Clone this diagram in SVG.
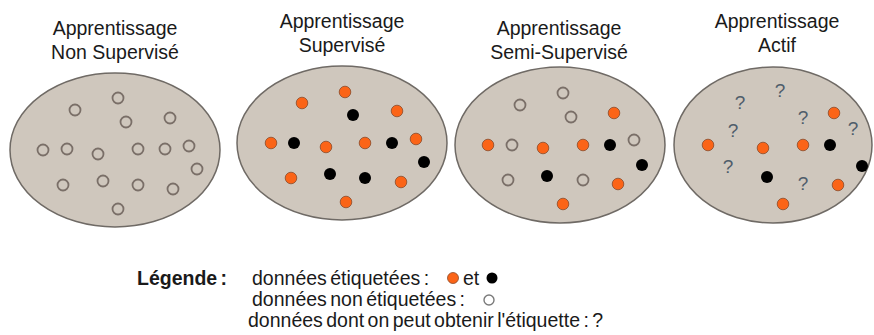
<svg xmlns="http://www.w3.org/2000/svg" width="874" height="335" viewBox="0 0 874 335">
<style>
.title{font-family:"Liberation Sans",Arial,sans-serif;font-size:19.5px;fill:#1a1a1a;text-anchor:middle}
.leg{font-family:"Liberation Sans",Arial,sans-serif;font-size:19.5px;word-spacing:-2px;fill:#1a1a1a}
.legb{font-family:"Liberation Sans",Arial,sans-serif;font-size:19.5px;word-spacing:-2px;font-weight:bold;fill:#1a1a1a}
.set{fill:#cfc7bd;stroke:#6f6a65;stroke-width:1.5}
.h{fill:none;stroke:#7a6f68;stroke-width:1.8}
.o{fill:#fb6417;stroke:#8a4a2a;stroke-width:0.8}
.b{fill:#000}
.q{font-family:"Liberation Sans",Arial,sans-serif;font-size:19px;fill:#4f5d6b;text-anchor:middle}
</style>
<rect width="874" height="335" fill="#ffffff"/>

<g id="non-supervise">
<text class="title" x="115" y="35">Apprentissage</text>
<text class="title" x="115" y="59">Non Supervisé</text>
<ellipse class="set" cx="115" cy="150" rx="105" ry="77"/>
<circle class="h" cx="118" cy="98" r="5.5"/>
<circle class="h" cx="75" cy="110" r="5.5"/>
<circle class="h" cx="126" cy="122" r="5.5"/>
<circle class="h" cx="170" cy="118" r="5.5"/>
<circle class="h" cx="43" cy="150" r="5.5"/>
<circle class="h" cx="67" cy="149" r="5.5"/>
<circle class="h" cx="98" cy="154" r="5.5"/>
<circle class="h" cx="138" cy="149" r="5.5"/>
<circle class="h" cx="165" cy="149" r="5.5"/>
<circle class="h" cx="189" cy="146" r="5.5"/>
<circle class="h" cx="197" cy="169" r="5.5"/>
<circle class="h" cx="63" cy="185" r="5.5"/>
<circle class="h" cx="103" cy="181" r="5.5"/>
<circle class="h" cx="138" cy="185" r="5.5"/>
<circle class="h" cx="173" cy="189" r="5.5"/>
<circle class="h" cx="118" cy="209" r="5.5"/>
</g>

<g id="supervise">
<text class="title" x="342" y="28">Apprentissage</text>
<text class="title" x="342" y="52">Supervisé</text>
<ellipse class="set" cx="342" cy="143" rx="105" ry="77"/>
<circle class="o" cx="345" cy="92" r="5.8"/>
<circle class="o" cx="302" cy="103" r="5.8"/>
<circle class="b" cx="353" cy="115" r="6"/>
<circle class="o" cx="397" cy="111" r="5.8"/>
<circle class="o" cx="271" cy="143" r="5.8"/>
<circle class="b" cx="294" cy="143" r="6"/>
<circle class="o" cx="326" cy="147" r="5.8"/>
<circle class="o" cx="365" cy="143" r="5.8"/>
<circle class="b" cx="392" cy="143" r="6"/>
<circle class="o" cx="416" cy="139" r="5.8"/>
<circle class="b" cx="424" cy="162" r="6"/>
<circle class="o" cx="291" cy="178" r="5.8"/>
<circle class="b" cx="330" cy="174" r="6"/>
<circle class="b" cx="365" cy="178" r="6"/>
<circle class="o" cx="401" cy="182" r="5.8"/>
<circle class="o" cx="346" cy="202" r="5.8"/>
</g>

<g id="semi-supervise">
<text class="title" x="559" y="35">Apprentissage</text>
<text class="title" x="559" y="59">Semi-Supervisé</text>
<ellipse class="set" cx="560" cy="145" rx="105" ry="78"/>
<circle class="h" cx="563" cy="93" r="5.5"/>
<circle class="h" cx="520" cy="105" r="5.5"/>
<circle class="h" cx="571" cy="117" r="5.5"/>
<circle class="o" cx="614" cy="113" r="5.8"/>
<circle class="o" cx="488" cy="145" r="5.8"/>
<circle class="h" cx="512" cy="145" r="5.5"/>
<circle class="o" cx="543" cy="148" r="5.8"/>
<circle class="o" cx="583" cy="145" r="5.8"/>
<circle class="b" cx="610" cy="145" r="6"/>
<circle class="h" cx="634" cy="140" r="5.5"/>
<circle class="b" cx="642" cy="165" r="6"/>
<circle class="h" cx="508" cy="180" r="5.5"/>
<circle class="b" cx="547" cy="176" r="6"/>
<circle class="h" cx="583" cy="180" r="5.5"/>
<circle class="o" cx="618" cy="184" r="5.8"/>
<circle class="o" cx="563" cy="204" r="5.8"/>
</g>

<g id="actif">
<text class="title" x="777" y="28">Apprentissage</text>
<text class="title" x="777" y="52">Actif</text>
<ellipse class="set" cx="773" cy="145" rx="99" ry="78"/>
<text class="q" x="780" y="97">?</text>
<text class="q" x="740" y="109">?</text>
<text class="q" x="803" y="124">?</text>
<text class="q" x="853" y="135">?</text>
<text class="q" x="733" y="137">?</text>
<text class="q" x="728" y="173">?</text>
<text class="q" x="803" y="190">?</text>
<circle class="o" cx="834" cy="113" r="5.8"/>
<circle class="o" cx="708" cy="145" r="5.8"/>
<circle class="o" cx="763" cy="148" r="5.8"/>
<circle class="o" cx="803" cy="145" r="5.8"/>
<circle class="b" cx="830" cy="145" r="6"/>
<circle class="b" cx="862" cy="166" r="6"/>
<circle class="b" cx="767" cy="177" r="6"/>
<circle class="o" cx="838" cy="185" r="5.8"/>
<circle class="o" cx="783" cy="204" r="5.8"/>
</g>

<g id="legende">
<text class="legb" x="137" y="285">Légende :</text>
<text class="leg" x="252" y="285">données étiquetées :</text>
<circle class="o" cx="453" cy="278" r="5.5"/>
<text class="leg" x="463" y="285">et</text>
<circle class="b" cx="492" cy="278" r="5.5"/>
<text class="leg" x="252" y="306">données non étiquetées :</text>
<circle cx="489" cy="300" r="5" fill="#fff" stroke="#7a7a7a" stroke-width="1.4"/>
<text class="leg" x="248" y="327">données dont on peut obtenir l'étiquette : ?</text>
</g>
</svg>
